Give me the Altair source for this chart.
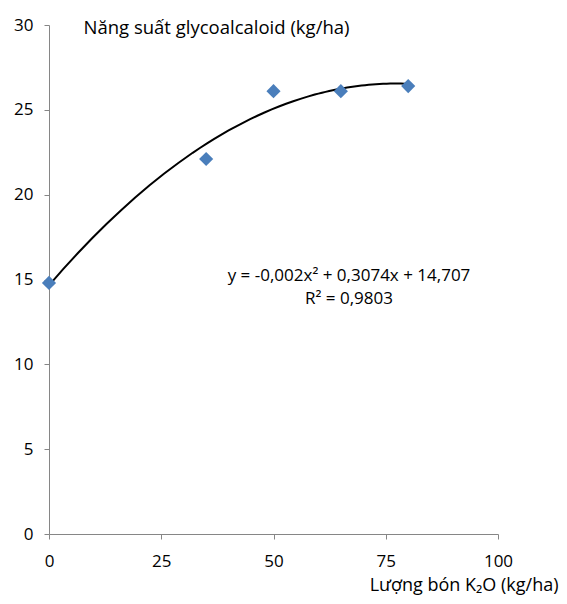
import altair as alt
import pandas as pd

k2o = [0, 35, 50, 65, 80]
yield_ga = [14.8, 22.1, 26.1, 26.1, 26.4]
x_ticks = [0, 25, 50, 75, 100]
y_ticks = [0, 5, 10, 15, 20, 25, 30]
eq_lines = ["y = -0,002x² + 0,3074x + 14,707", "R² = 0,9803"]

df = pd.DataFrame({"x": k2o, "y": yield_ga})
FONT = "Open Sans"
GRAY = "#868686"

xenc = alt.X("x:Q", scale=alt.Scale(domain=[0, 100], nice=False),
             axis=alt.Axis(values=x_ticks, title="Lượng bón K₂O (kg/ha)", grid=False,
                           domainColor=GRAY, tickColor=GRAY, tickSize=5,
                           labelFont=FONT, labelFontSize=17, labelColor="#000",
                           labelPadding=14, labelFlush=False,
                           titleFont=FONT, titleFontSize=18,
                           titleFontWeight="normal", titleColor="#000",
                           titleAnchor="end", titleAlign="right", titleBaseline="middle",
                           titleX=509, titleY=51))
yenc = alt.Y("y:Q", scale=alt.Scale(domain=[0, 30], nice=False),
             axis=alt.Axis(values=y_ticks, title="Năng suất glycoalcaloid (kg/ha)", grid=False,
                           domainColor=GRAY, tickColor=GRAY, tickSize=5,
                           labelFont=FONT, labelFontSize=17, labelColor="#000",
                           labelPadding=11, labelFlush=False,
                           titleFont=FONT, titleFontSize=18.5,
                           titleFontWeight="normal", titleColor="#000", titleAngle=0,
                           titleAlign="left", titleBaseline="middle",
                           titleX=34, titleY=2))

base = alt.Chart(df).encode(x=xenc, y=yenc)

points = base.mark_point(shape="diamond", filled=True, size=200,
                         color="#4a7ebb", opacity=1)

trend = base.transform_regression(
    "x", "y", method="poly", order=2
).mark_line(color="#000", strokeWidth=2)

eq = alt.Chart(df).mark_text(font=FONT, fontSize=17, color="#000",
                             align="center", baseline="middle",
                             lineBreak="\n", lineHeight=23,
                             text="\n".join(eq_lines)).encode(
    x=alt.value(300), y=alt.value(251)
).transform_filter("datum.x == 0")

chart = alt.layer(trend, points, eq).properties(
    width=449, height=509,
    autosize=alt.AutoSizeParams(type="none"),
    padding={"left": 41, "top": 17, "right": 61, "bottom": 62},
).configure_view(stroke=None)

chart.save("out.html", embed_options={"renderer": "svg", "actions": False})
